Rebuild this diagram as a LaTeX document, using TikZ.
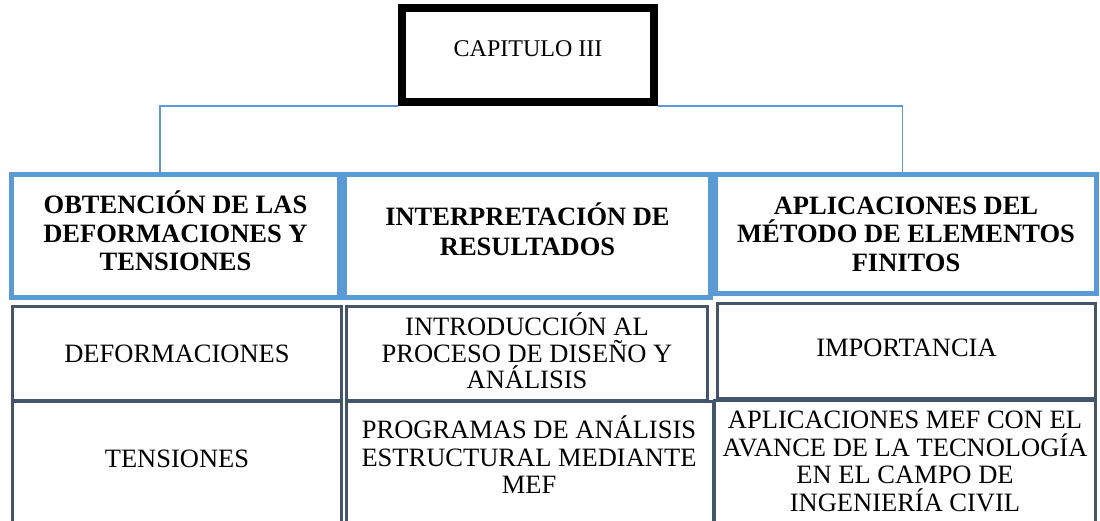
\documentclass[tikz,border=0pt]{standalone}
\usepackage{fontspec}
\setmainfont{Liberation Serif}
\definecolor{hblue}{HTML}{5B9BD5}
\definecolor{slate}{HTML}{44546A}
\begin{document}
\begin{tikzpicture}[x=1pt,y=-1pt,
  capbox/.style={draw=black, line width=8pt, minimum width=252pt, minimum height=94pt, inner sep=0pt,
    font=\fontsize{24}{28}\selectfont, text height=18pt, text depth=16pt},
  headbox/.style={draw=hblue, line width=5pt, inner sep=0pt, align=center,
    font=\fontsize{26.5}{28.5}\selectfont\bfseries},
  headtext/.style={inner sep=0pt, align=center, font=\fontsize{26.5}{28.5}\selectfont\bfseries},
  cellbox/.style={draw=slate, line width=3pt, inner sep=0pt, align=center,
    font=\fontsize{26.5}{27.5}\selectfont},
  celltext/.style={inner sep=0pt, align=center, font=\fontsize{26.5}{27.5}\selectfont},
  conn/.style={draw=hblue, line width=1.5pt}]
\useasboundingbox (0,0) rectangle (1100,520);

\coordinate (c1) at (160,174.5);
\coordinate (c3) at (902.5,174.5);

% top box and connectors
\node[capbox] (cap) at (528,55) {CAPITULO III};
\draw[conn] (cap.south west) -| (c1);
\draw[conn] (cap.south east) -| (c3);

% heading boxes
\node[headbox, minimum width=328pt, minimum height=123pt] (h1) at (175.5,236) {};
\node[headtext] (h1t) at (175.5,231) {OBTENCIÓN DE LAS\\DEFORMACIONES Y\\TENSIONES};
\node[headbox, minimum width=366pt, minimum height=123pt] (h2) at (527.5,236) {};
\node[headtext, font=\fontsize{26.5}{30}\selectfont\bfseries] (h2t) at (527.5,229.5) {INTERPRETACIÓN DE\\RESULTADOS};
\node[headbox, minimum width=381pt, minimum height=119pt] (h3) at (906,234)
  {APLICACIONES DEL\\MÉTODO DE ELEMENTOS\\FINITOS};

% row 1
\node[cellbox, minimum width=329pt, minimum height=94pt] (r1a) at (177,353.5) {DEFORMACIONES};
\node[cellbox, minimum width=361pt, minimum height=94pt] (r1b) at (527,353.5) {};
\node[celltext, font=\fontsize{26.5}{26.5}\selectfont] (r1bt) at (527,351) {INTRODUCCIÓN AL\\PROCESO DE DISEÑO Y\\ANÁLISIS};
\node[cellbox, minimum width=378pt, minimum height=95pt] (r1c) at (906.5,351) {};
\node[celltext] (r1ct) at (906.5,348) {IMPORTANCIA};

% row 2 (boxes run past the lower edge)
\node[cellbox, minimum width=329pt, minimum height=133.5pt] (r2a) at (177,468.25) {};
\node[cellbox, minimum width=366.5pt, minimum height=133.5pt] (r2b) at (529.75,468.25) {};
\node[cellbox, minimum width=381pt, minimum height=135pt] (r2c) at (905,467.5) {};
\node[celltext] (t2a) at (177,458.5) {TENSIONES};
\node[celltext] (t2b) at (529,455) {PROGRAMAS DE ANÁLISIS\\ESTRUCTURAL MEDIANTE\\MEF};
\node[celltext] (t2c) at (905,461.5) {APLICACIONES MEF CON EL\\AVANCE DE LA TECNOLOGÍA\\EN EL CAMPO DE\\INGENIERÍA CIVIL};
\end{tikzpicture}
\end{document}
